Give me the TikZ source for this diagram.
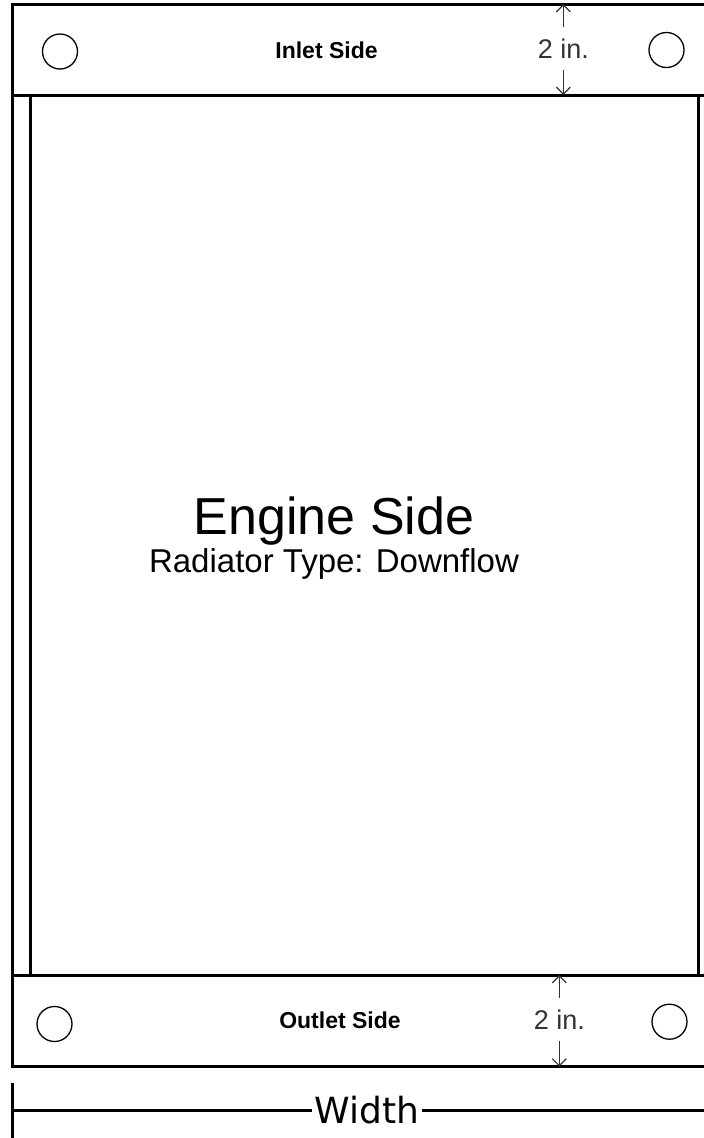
\documentclass[tikz,border=0pt]{standalone}
\usepackage{fontspec}
\setmainfont{Liberation Sans}
\newfontfamily\dejavu{DejaVu Sans}
\usetikzlibrary{arrows.meta}
\definecolor{dimgray}{HTML}{333333}
\begin{document}
\begin{tikzpicture}[x=1pt,y=-1pt,
  frame/.style={line width=3pt, line cap=rect},
  hole/.style={draw, line width=1.3pt, circle, minimum size=35pt, inner sep=0pt},
  dimline/.style={draw=dimgray, line width=1.2pt, -{Straight Barb[length=7pt,width=14pt]}},
  dimtext/.style={text=dimgray, font=\fontsize{27}{30}\selectfont, inner xsep=1pt, inner ysep=0pt, minimum height=43pt},
  sidelabel/.style={font=\fontsize{23}{26}\selectfont\bfseries, anchor=base, inner sep=0pt}]
\useasboundingbox (0,0) rectangle (704,1138);
\clip (0,0) rectangle (704,1138);
\fill[white] (0,0) rectangle (704,1138);

% tanks and core
\draw[frame] (12.5,4) rectangle (716,95);
\draw[frame] (12.5,975) rectangle (716,1066.5);
\draw[frame] (12.5,95) -- (12.5,975);
\draw[frame] (30,95) -- (30,975);
\draw[frame] (698,95) -- (698,975);

% holes
\node[hole] (h1) at (60,51.5) {};
\node[hole] (h2) at (666.5,50) {};
\node[hole] (h3) at (54.5,1024) {};
\node[hole] (h4) at (669.5,1021.7) {};

% labels
\node[sidelabel] (inlet) at (326.5,58) {Inlet Side};
\node[sidelabel] (outlet) at (340,1028) {Outlet Side};
\node[font=\fontsize{52}{56}\selectfont, anchor=base, inner sep=0pt] (engine) at (334,534) {Engine Side};
\node[font=\fontsize{33}{36}\selectfont, anchor=base, inner sep=0pt] (type) at (334,572) {Radiator Type: Downflow};

% dimensions
\node[dimtext] (d1) at (563.3,48.5) {2 in.};
\coordinate (d1t) at (563.3,4);
\coordinate (d1b) at (563.3,95);
\draw[dimline] (d1.north) -- (d1t);
\draw[dimline] (d1.south) -- (d1b);

\node[dimtext] (d2) at (559.3,1019.5) {2 in.};
\coordinate (d2t) at (559.3,975);
\coordinate (d2b) at (559.3,1066.5);
\draw[dimline] (d2.north) -- (d2t);
\draw[dimline] (d2.south) -- (d2b);

% width
\node[font=\dejavu\fontsize{36}{40}\selectfont, anchor=base, inner xsep=3pt, inner ysep=0pt] (width) at (367,1123) {Width};
\coordinate (wl) at (12.5,1110.5);
\coordinate (wr) at (716,1110.5);
\coordinate (wtop) at (12.5,1083);
\coordinate (wbot) at (12.5,1140);
\draw[line width=2.5pt] (wtop) -- (wbot);
\draw[line width=2.5pt] (wl) -- (wl -| width.west);
\draw[line width=2.5pt] (wr -| width.east) -- (wr);
\end{tikzpicture}
\end{document}
